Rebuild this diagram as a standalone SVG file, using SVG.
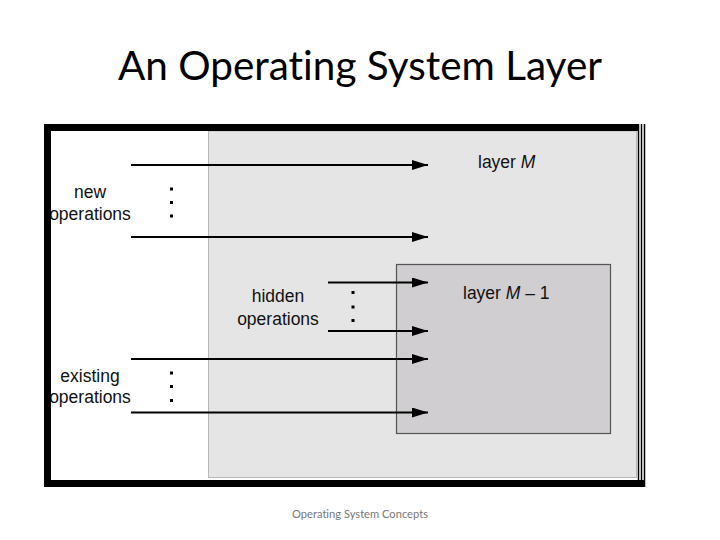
<svg xmlns="http://www.w3.org/2000/svg" width="720" height="540" viewBox="0 0 720 540">
<defs>
<marker id="ah" viewBox="0 0 16 10" refX="16" refY="5" markerWidth="16" markerHeight="10" markerUnits="userSpaceOnUse" orient="auto">
<path d="M0,0 L16,5 L0,10 Z" fill="#000"/>
</marker>
</defs>
<style>
.lbl{font-family:"Liberation Sans",Arial,sans-serif;font-size:17.5px;fill:#111;}
.cal{font-family:Lato,"Open Sans",sans-serif;font-variant-ligatures:none;font-feature-settings:"liga" 0,"clig" 0;}
.conn line{stroke:#000;stroke-width:2;}
.arr{marker-end:url(#ah);}
.dot{fill:#000;}
</style>
<rect x="0" y="0" width="720" height="540" fill="#fff"/>
<text class="cal" x="360" y="80" text-anchor="middle" font-size="40" fill="#000" textLength="484" lengthAdjust="spacingAndGlyphs">An Operating System Layer</text>
<g id="frame">
<rect x="51" y="131" width="586" height="347" fill="#fff"/>
</g>
<g id="layerM">
<rect x="208.5" y="131" width="428" height="346.5" fill="#e5e5e5" stroke="#b8b8b8" stroke-width="1"/>
<text class="lbl" x="478" y="168">layer <tspan font-style="italic">M</tspan></text>
</g>
<g id="layerM1">
<rect x="396.5" y="264.5" width="214" height="169" fill="#d0ced0" stroke="#555" stroke-width="1.2"/>
<text class="lbl" x="463" y="299">layer <tspan font-style="italic">M</tspan> – 1</text>
</g>
<g id="newops">
<text class="lbl" x="90" y="198" text-anchor="middle">new</text>
<text class="lbl" x="90" y="220" text-anchor="middle">operations</text>
<rect class="dot" x="170" y="187.5" width="3" height="3"/>
<rect class="dot" x="170" y="201" width="3" height="3"/>
<rect class="dot" x="170" y="214.5" width="3" height="3"/>
</g>
<g id="hiddenops">
<text class="lbl" x="278" y="302" text-anchor="middle">hidden</text>
<text class="lbl" x="278" y="325" text-anchor="middle">operations</text>
<rect class="dot" x="351.5" y="291" width="3" height="3"/>
<rect class="dot" x="351.5" y="305.5" width="3" height="3"/>
<rect class="dot" x="351.5" y="319" width="3" height="3"/>
</g>
<g id="existingops">
<text class="lbl" x="90" y="382" text-anchor="middle">existing</text>
<text class="lbl" x="90" y="403" text-anchor="middle">operations</text>
<rect class="dot" x="170" y="371.5" width="3" height="3"/>
<rect class="dot" x="170" y="385" width="3" height="3"/>
<rect class="dot" x="170" y="399" width="3" height="3"/>
</g>
<g id="connectors" class="conn">
<line class="arr" x1="131" y1="165" x2="428" y2="165"/>
<line class="arr" x1="131" y1="237" x2="428" y2="237"/>
<line class="arr" x1="328" y1="282.5" x2="428" y2="282.5"/>
<line class="arr" x1="328" y1="331" x2="428" y2="331"/>
<line class="arr" x1="131" y1="359" x2="428" y2="359"/>
<line class="arr" x1="131" y1="412.5" x2="428" y2="412.5"/>
</g>
<g id="border" fill="none" stroke="#000">
<path d="M47.5,487 V127.5 H639" stroke-width="7"/>
<path d="M44,483.5 H645" stroke-width="7"/>
<line x1="638.5" y1="124" x2="638.5" y2="487" stroke-width="1.5"/>
<line x1="641.5" y1="124" x2="641.5" y2="487" stroke-width="1.5"/>
<line x1="644.5" y1="124" x2="644.5" y2="487" stroke-width="1.5"/>
</g>
<text class="cal" x="360" y="518" text-anchor="middle" font-size="11" fill="#777" textLength="136" lengthAdjust="spacingAndGlyphs">Operating System Concepts</text>
</svg>
